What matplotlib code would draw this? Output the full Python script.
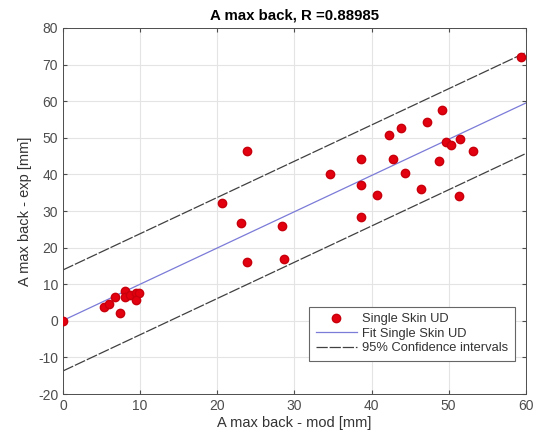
import numpy as np
import matplotlib
matplotlib.use("Agg")
import matplotlib.pyplot as plt

plt.rcParams['font.family'] = ['Liberation Sans', 'DejaVu Sans']
plt.rcParams['axes.unicode_minus'] = False

# Data
mod = [0.0, 5.3, 5.9, 6.8, 7.4, 8.0, 8.0, 8.7, 9.4, 9.8, 9.4,
       20.6, 23.1, 23.8, 23.9, 28.4, 28.7, 34.6, 38.6, 38.6, 38.6,
       40.7, 42.3, 42.8, 43.8, 44.4, 46.4, 47.2, 48.8, 49.2, 49.7,
       50.3, 51.4, 51.5, 53.2, 59.4]
exp = [0.0, 3.8, 4.7, 6.6, 2.2, 8.1, 6.6, 7.0, 7.5, 7.5, 5.7,
       32.1, 26.8, 46.5, 16.1, 25.9, 16.8, 40.2, 44.3, 37.2, 28.4,
       34.4, 50.9, 44.2, 52.7, 40.4, 36.0, 54.2, 43.6, 57.7, 48.9,
       48.1, 34.2, 49.8, 46.5, 72.2]

fit_slope = 0.99
fit_intercept = 0.1
ci_half = 13.8
fit_x = [0, 60]

xticks = list(range(0, 61, 10))
yticks = list(range(-20, 81, 10))

fig = plt.figure(figsize=(5.4, 4.43), dpi=100)
ax = fig.add_axes([0.1167, 0.1106, 0.857, 0.8262])

fx = np.array(fit_x)
fy = fit_slope * fx + fit_intercept

ax.plot(mod, exp, 'o', color='#e3000f', markeredgecolor='#c8000c',
        markersize=6, label='Single Skin UD', zorder=3)
ax.plot(fx, fy, '-', color='#7b7bd8', lw=0.9, label='Fit Single Skin UD', zorder=2)
ax.plot(fx, fy + ci_half, color='#404040', lw=0.9, ls=(0, (9, 1.5)),
        label='95% Confidence intervals', zorder=2)
ax.plot(fx, fy - ci_half, color='#404040', lw=0.9, ls=(0, (9, 1.5)), zorder=2)

ax.set_xlim(0, 60)
ax.set_ylim(-20, 80)
ax.set_xticks(xticks)
ax.set_yticks(yticks)
ax.grid(True, color='#e4e4e4', lw=0.8)
ax.set_axisbelow(True)
ax.tick_params(direction='in', length=3, labelsize=10, colors='#4d4d4d',
               top=True, right=True, labeltop=False, labelright=False)
for s in ax.spines.values():
    s.set_color('#4d4d4d')
    s.set_linewidth(0.7)

ax.set_title('A max back, R =0.88985', fontsize=10.8, fontweight='bold', pad=6)
ax.set_xlabel('A max back - mod [mm]', fontsize=10.5, color='#333333', labelpad=2)
ax.set_ylabel('A max back - exp [mm]', fontsize=10.5, color='#333333', labelpad=4)

leg = ax.legend(loc='lower right', bbox_to_anchor=(0.99, 0.073), fontsize=9.3,
                frameon=True, fancybox=False, framealpha=1, edgecolor='#666666',
                handlelength=3.2, handletextpad=0.4, borderpad=0.5, labelspacing=0.2)
leg.get_frame().set_linewidth(0.8)
for t in leg.get_texts():
    t.set_color('#333333')

fig.savefig('out.png', dpi=100)
